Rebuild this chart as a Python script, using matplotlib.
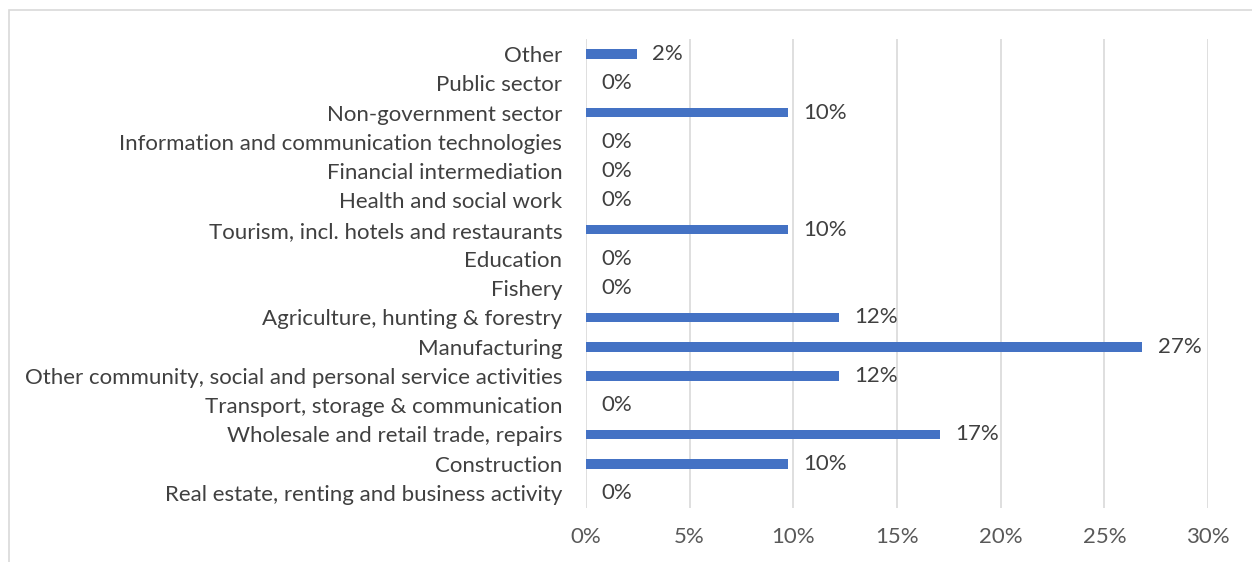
import matplotlib.pyplot as plt
import matplotlib.ticker as mtick
from matplotlib.patches import Rectangle

# Sectors, bottom to top
sectors = [
    "Real estate, renting and business activity",
    "Construction",
    "Wholesale and retail trade, repairs",
    "Transport, storage & communication",
    "Other community, social and personal service activities",
    "Manufacturing",
    "Agriculture, hunting & forestry",
    "Fishery",
    "Education",
    "Tourism, incl. hotels and restaurants",
    "Health and social work",
    "Financial intermediation",
    "Information and communication technologies",
    "Non-government sector",
    "Public sector",
    "Other",
]
shares = [0.0, 0.0976, 0.1707, 0.0, 0.1220, 0.2683, 0.1220, 0.0, 0.0,
          0.0976, 0.0, 0.0, 0.0, 0.0976, 0.0, 0.0244]
xticks = [0, 0.05, 0.10, 0.15, 0.20, 0.25, 0.30]

plt.rcParams['font.family'] = ['Lato', 'DejaVu Sans']

fig = plt.figure(figsize=(12.52, 5.62), dpi=100)
ax = fig.add_axes([0.468, 0.0968, 0.4969, 0.833])

y = range(len(sectors))
ax.barh(y, shares, height=0.33, color='#4472C4', zorder=3)

for yi, v in zip(y, shares):
    ax.annotate(f"{v:.0%}", (v, yi), xytext=(11, 0), textcoords='offset points',
                va='center', ha='left', fontsize=16, color='#404040')

ax.set_xlim(0, 0.30)
ax.set_ylim(-0.5, len(sectors) - 0.5)
ax.set_xticks(xticks)
ax.xaxis.set_major_formatter(mtick.PercentFormatter(1.0, 0))
ax.set_yticks(list(y))
ax.set_yticklabels(sectors)

ax.grid(axis='x', color='#d9d9d9', lw=1.2, zorder=0)
for s in ax.spines.values():
    s.set_visible(False)
ax.tick_params(axis='both', length=0, labelsize=16)
ax.tick_params(axis='y', pad=17, labelcolor='#404040')
ax.tick_params(axis='x', pad=14, labelcolor='#595959')

# outer chart frame
fig.add_artist(Rectangle((9 / 1252, -0.1), 1.2, 1 - 10 / 562 + 0.1,
                         transform=fig.transFigure, fill=False,
                         edgecolor='#d9d9d9', lw=1.2))

fig.savefig("out.png", dpi=100)
